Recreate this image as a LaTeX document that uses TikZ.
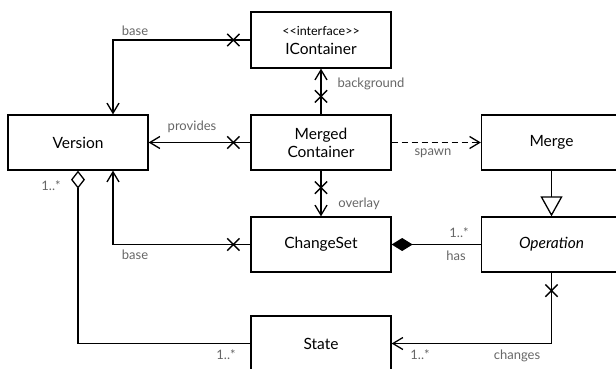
\documentclass[tikz,border=0pt]{standalone}
\usepackage{fontspec}
\setmainfont{Lato}
\usetikzlibrary{arrows.meta,shapes.misc,calc}
\begin{document}
\begin{tikzpicture}[x=1pt,y=-1pt,
  cls/.style={draw, line width=1.3pt, minimum width=140pt, minimum height=55pt,
    inner sep=0pt, align=center, font=\fontsize{15.5}{18}\selectfont},
  lbl/.style={text=black!60, font=\fontsize{13}{15}\selectfont, inner sep=0pt},
  conn/.style={line width=1.3pt},
  nav/.style={-{Straight Barb[length=10pt,width=12pt]}},
  xm/.style={cross out, draw, line width=1.3pt, minimum size=11pt, inner sep=0pt},
  inherit/.style={-{Triangle[open,length=20pt,width=22pt]}},
  aggr/.style={{Diamond[open,length=18pt,width=14pt]}-},
  compo/.style={{Diamond[length=21pt,width=13pt]}-}
]
\useasboundingbox (0,0) rectangle (616,368);
\clip (0,0) rectangle (616,368);

% classes
\node[cls, minimum height=56pt] (ic) at (321,40)
  {{\fontsize{12.5}{14}\selectfont <{}<interface>{}>}\\[1pt]IContainer};
\node[cls] (ver) at (78,142.5) {Version};
\node[cls] (mc) at (321,142.5) {Merged\\Container};
\node[cls] (mrg) at (551.5,142.5) {Merge};
\node[cls] (cs) at (321,244.5) {ChangeSet};
\node[cls] (op) at (551.5,244.5) {\itshape Operation};
\node[cls] (st) at (321,343.5) {State};

% corner points of the bent connectors
\coordinate (bt) at (113,40);
\coordinate (bb) at (113,244.5);
\coordinate (ag) at (78,343.5);
\coordinate (ch) at (551.5,343.5);

% IContainer --base--> Version
\draw[conn,nav] (ic.west) -- (bt) -- (bt |- ver.north);
\node[xm] (x1) at ($(ic.west)+(-17,0)$) {};
\node[lbl] (l1) at (135,31) {base};

% MergedContainer --provides--> Version
\draw[conn,nav] (mc.west) -- (ver.east);
\node[xm] (x2) at ($(mc.west)+(-17,0)$) {};
\node[lbl] (l2) at (192,127) {provides};

% MergedContainer --background--> IContainer
\draw[conn,nav] (mc.north) -- (ic.south);
\node[xm] (x3) at ($(mc.north)+(0,-18)$) {};
\node[lbl] (l3) at (371,84) {background};

% MergedContainer --overlay--> ChangeSet
\draw[conn,nav] (mc.south) -- (cs.north);
\node[xm] (x4) at ($(mc.south)+(0,17)$) {};
\node[lbl] (l4) at (359,204) {overlay};

% MergedContainer ..spawn..> Merge
\draw[conn,nav,dash pattern=on 6pt off 4pt] (mc.east) -- (mrg.west);
\node[lbl] (l5) at (433,153) {spawn};

% Merge specialises Operation
\draw[conn,inherit] (mrg.south) -- (op.north);

% ChangeSet --base--> Version
\draw[conn,nav] (cs.west) -- (bb) -- (bb |- ver.south);
\node[xm] (x5) at ($(cs.west)+(-17,0)$) {};
\node[lbl] (l6) at (135,255) {base};

% ChangeSet has Operation
\draw[conn,compo] (cs.east) -- (op.west);
\node[lbl] (l7) at (459,233) {1..*};
\node[lbl] (l8) at (456,256) {has};

% Version aggregates State
\draw[conn,aggr] (ver.south) -- (ag) -- (st.west);
\node[lbl] (l9) at (51,186) {1..*};
\node[lbl] (l10) at (226,355) {1..*};

% Operation --changes--> State
\draw[conn,nav] (op.south) -- (ch) -- (st.east);
\node[xm] (x6) at ($(op.south)+(0,18)$) {};
\node[lbl] (l11) at (420,355) {1..*};
\node[lbl] (l12) at (517,356) {changes};
\end{tikzpicture}
\end{document}
